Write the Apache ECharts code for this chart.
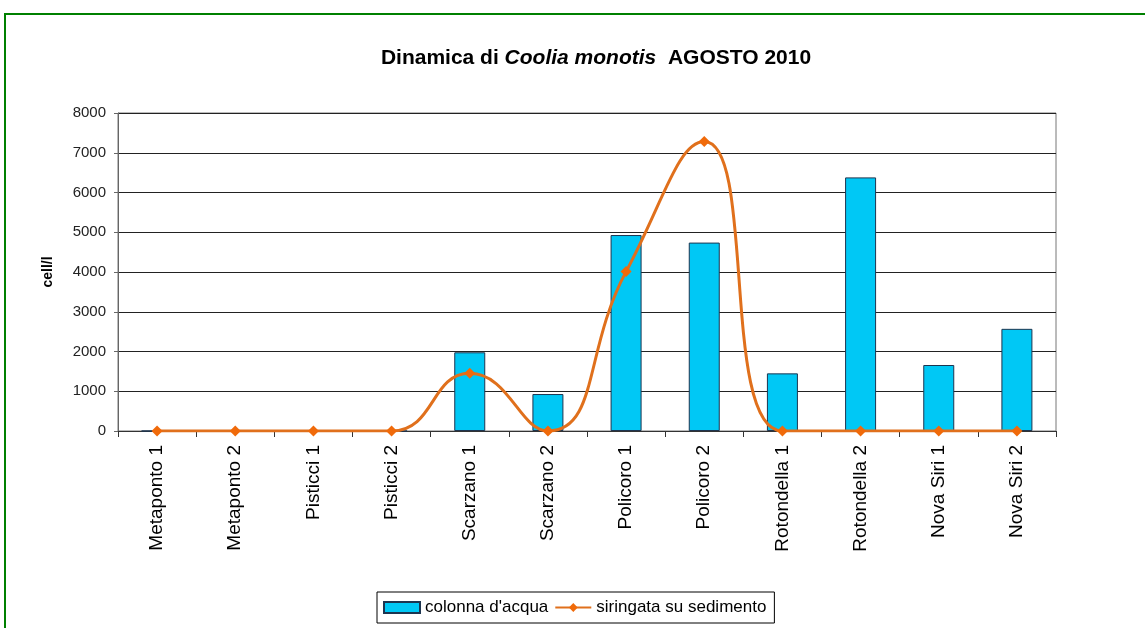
<!DOCTYPE html>
<html>
<head>
<meta charset="utf-8">
<script src="https://cdn.jsdelivr.net/npm/echarts@6/dist/echarts.min.js"></script>
<style>
html, body { margin: 0; padding: 0; background: #fff; overflow: hidden; }
#chart { width: 1145px; height: 628px; }
</style>
</head>
<body>
<div id="chart"></div>
<script>
var stations = ['Metaponto 1', 'Metaponto 2', 'Pisticci 1', 'Pisticci 2', 'Scarzano 1', 'Scarzano 2',
    'Policoro 1', 'Policoro 2', 'Rotondella 1', 'Rotondella 2', 'Nova Siri 1', 'Nova Siri 2'];
var colonnaAcqua = [0, 0, 0, 0, 1980, 930, 4930, 4740, 1450, 6380, 1660, 2570];
var siringata = [0, 0, 0, 0, 1450, 0, 4010, 7280, 0, 0, 0, 0];

var myChart = echarts.init(document.getElementById('chart'));
var font = 'Arial, "Liberation Sans", sans-serif';

var option = {
    animation: false,
    backgroundColor: '#fff',
    textStyle: { fontFamily: font },
    graphic: [{
        type: 'rect',
        shape: { x: 5, y: 14, width: 1200, height: 700 },
        style: { fill: 'none', stroke: '#008000', lineWidth: 2 },
        silent: true
    }],
    title: {
        text: '{b|Dinamica di }{i|Coolia monotis}{b|  AGOSTO 2010}',
        left: 591,
        textAlign: 'center',
        top: 43,
        textStyle: {
            rich: {
                b: { fontSize: 21, fontWeight: 'bold', color: '#000', fontFamily: font },
                i: { fontSize: 21, fontWeight: 'bold', fontStyle: 'italic', color: '#000', fontFamily: font }
            }
        }
    },
    legend: {
        left: 377,
        top: 592,
        padding: [7, 8, 7, 6],
        itemGap: 6,
        itemWidth: 36,
        itemHeight: 11,
        borderColor: '#000',
        borderWidth: 1,
        textStyle: { fontSize: 17, color: '#000', fontFamily: font },
        data: [
            { name: 'colonna d\'acqua', icon: 'rect' },
            { name: 'siringata su sedimento' }
        ]
    },
    grid: {
        left: 118,
        right: 89,
        top: 113,
        bottom: 197,
        show: true,
        borderColor: '#777',
        borderWidth: 1,
        containLabel: false
    },
    xAxis: {
        type: 'category',
        data: stations,
        boundaryGap: true,
        axisLine: { lineStyle: { color: '#333', width: 1 } },
        axisTick: { show: true, length: 6, lineStyle: { color: '#333' } },
        axisLabel: { rotate: 90, fontSize: 19, color: '#000', margin: 14, fontFamily: font }
    },
    yAxis: {
        type: 'value',
        min: 0,
        max: 8000,
        interval: 1000,
        name: 'cell/l',
        nameLocation: 'middle',
        nameGap: 63,
        nameTextStyle: { fontSize: 14, fontWeight: 'bold', color: '#000', fontFamily: font },
        axisLine: { show: true, lineStyle: { color: '#666' } },
        axisTick: { show: true, length: 4, lineStyle: { color: '#666' } },
        axisLabel: { fontSize: 15, color: '#222', margin: 12, fontFamily: font, formatter: function (v) { return String(v); } },
        splitLine: { lineStyle: { color: '#222', width: 1 } }
    },
    series: [
        {
            name: 'colonna d\'acqua',
            type: 'bar',
            data: colonnaAcqua,
            barWidth: 31,
            itemStyle: { color: '#00c8f5', borderColor: '#1d3550', borderWidth: 1 }
        },
        {
            name: 'siringata su sedimento',
            type: 'line',
            data: siringata,
            smooth: 0.5,
            smoothConstraint: false,
            symbol: 'diamond',
            symbolSize: 11,
            lineStyle: { color: '#e0701c', width: 3 },
            itemStyle: { color: '#f06a0a' }
        }
    ]
};
myChart.setOption(option);
</script>
</body>
</html>
